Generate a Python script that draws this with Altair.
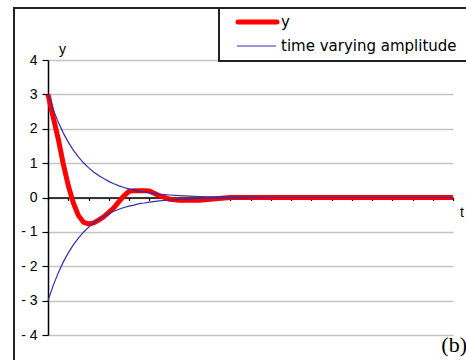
import altair as alt
import pandas as pd

# time samples
t = [0, 0.25, 0.5, 0.75, 1.0, 1.25, 1.5, 1.75, 2.0, 2.25, 2.5, 2.75, 3.0,
     3.25, 3.5, 3.75, 4.0, 4.25, 4.5, 4.75, 5.0, 5.5, 6.0, 6.5, 7.0, 7.5,
     8.0, 9, 10, 11, 12, 13, 14, 15, 16, 17, 18, 19, 20]

# damped response
y_vals = [3.00, 2.35, 1.72, 0.99, 0.35, -0.16, -0.52, -0.72, -0.77, -0.74,
          -0.66, -0.56, -0.43, -0.30, -0.12, 0.05, 0.18, 0.20, 0.20, 0.20,
          0.19, 0.05, -0.05, -0.08, -0.08, -0.08, -0.05, 0.0, 0.0, 0.0, 0.0,
          0.0, 0.0, 0.0, 0.0, 0.0, 0.0, 0.0, 0.0]

# decaying envelope, upper and lower
env_upper = [3.00, 2.57, 2.20, 1.88, 1.61, 1.38, 1.18, 1.01, 0.87, 0.74,
             0.64, 0.55, 0.47, 0.40, 0.34, 0.29, 0.25, 0.22, 0.18, 0.16,
             0.135, 0.099, 0.073, 0.053, 0.039, 0.029, 0.021, 0.011, 0.006,
             0.0, 0.0, 0.0, 0.0, 0.0, 0.0, 0.0, 0.0, 0.0, 0.0]
env_lower = [-3.00, -2.57, -2.20, -1.88, -1.61, -1.38, -1.18, -1.01, -0.87,
             -0.74, -0.64, -0.55, -0.47, -0.40, -0.34, -0.29, -0.25, -0.22,
             -0.18, -0.16, -0.135, -0.099, -0.073, -0.053, -0.039, -0.029,
             -0.021, -0.011, -0.006, 0.0, 0.0, 0.0, 0.0, 0.0, 0.0, 0.0, 0.0,
             0.0, 0.0]

series_names = ["y", "time varying amplitude"]
series_colors = ["#ff0000", "#3030a8"]
series_widths = [5, 1.2]
y_ticks = [-4, -3, -2, -1, 0, 1, 2, 3, 4]
t_ticks = list(range(0, 21))

rows = []
for ti, v in zip(t, y_vals):
    rows.append({"t": ti, "value": v, "series": "y", "part": "y"})
for ti, v in zip(t, env_upper):
    rows.append({"t": ti, "value": v, "series": "time varying amplitude", "part": "upper"})
for ti, v in zip(t, env_lower):
    rows.append({"t": ti, "value": v, "series": "time varying amplitude", "part": "lower"})
df = pd.DataFrame(rows)

W, H = 405, 275

lines = alt.Chart(df).mark_line().encode(
    x=alt.X("t:Q", scale=alt.Scale(domain=[0, 20], nice=False),
            axis=alt.Axis(values=t_ticks, labels=False, title=None, grid=False,
                          domainColor="black", domainWidth=1.5,
                          tickColor="black", tickSize=3, tickWidth=1.2,
                          offset=-(H / 2))),
    y=alt.Y("value:Q", scale=alt.Scale(domain=[-4, 4], nice=False),
            axis=alt.Axis(values=y_ticks, title=None, grid=True,
                          gridColor="#c4c4c4", gridWidth=1.5,
                          domainColor="black", domainWidth=1.5,
                          tickColor="black", tickSize=6, tickWidth=1.2,
                          labelFont="Liberation Sans", labelFontSize=14,
                          labelColor="black", labelPadding=5,
                          labelExpr="datum.value < 0 ? '- ' + (-datum.value) : datum.label")),
    color=alt.Color("series:N",
                    scale=alt.Scale(domain=series_names, range=series_colors),
                    legend=None),
    strokeWidth=alt.StrokeWidth("series:N",
                                scale=alt.Scale(domain=series_names, range=series_widths),
                                legend=None),
    detail="part:N",
)

one = pd.DataFrame({"k": [0]})

# outer border and legend box
frame = alt.Chart(one).mark_rect(fill=None, stroke="#222222", strokeWidth=2).encode(
    x=alt.value(-34), x2=alt.value(440), y=alt.value(-52), y2=alt.value(320))
legend_box = alt.Chart(one).mark_rect(fill="white", stroke="#222222", strokeWidth=2).encode(
    x=alt.value(171), x2=alt.value(440), y=alt.value(-52), y2=alt.value(1))

# legend entries
key_y = alt.Chart(one).mark_rule(color=series_colors[0], strokeWidth=series_widths[0],
                                 strokeCap="round").encode(
    x=alt.value(190), x2=alt.value(229), y=alt.value(-38))
key_amp = alt.Chart(one).mark_rule(color=series_colors[1], strokeWidth=series_widths[1]).encode(
    x=alt.value(189), x2=alt.value(228), y=alt.value(-14))
lab_y = alt.Chart(one).mark_text(text=series_names[0], font="DejaVu Sans", fontSize=15,
                                 color="black", align="left", baseline="alphabetic").encode(
    x=alt.value(233), y=alt.value(-33))
lab_amp = alt.Chart(one).mark_text(text=series_names[1], font="DejaVu Sans", fontSize=15,
                                   color="black", align="left", baseline="alphabetic").encode(
    x=alt.value(233), y=alt.value(-9))

y_label = alt.Chart(one).mark_text(text="y", font="Liberation Sans", fontSize=14,
                                   color="black", align="left", baseline="middle").encode(
    x=alt.value(11), y=alt.value(-10))
t_label = alt.Chart(one).mark_text(text="t", font="Liberation Sans", fontSize=14,
                                   color="black", align="left", baseline="middle").encode(
    x=alt.value(412), y=alt.value(153))
b_label = alt.Chart(one).mark_text(text="(b)", font="Liberation Serif", fontSize=22,
                                   color="black", align="right", baseline="alphabetic").encode(
    x=alt.value(419), y=alt.value(292))

chart = alt.layer(frame, legend_box, lines, key_y, key_amp, lab_y, lab_amp,
                  y_label, t_label, b_label).properties(
    width=W, height=H,
    padding={"left": 48, "top": 60, "right": 13, "bottom": 25},
    autosize=alt.AutoSizeParams(type="none"),
    background="white",
).configure_view(stroke=None)

chart.save("out.html", embed_options={"renderer": "svg", "actions": False})
